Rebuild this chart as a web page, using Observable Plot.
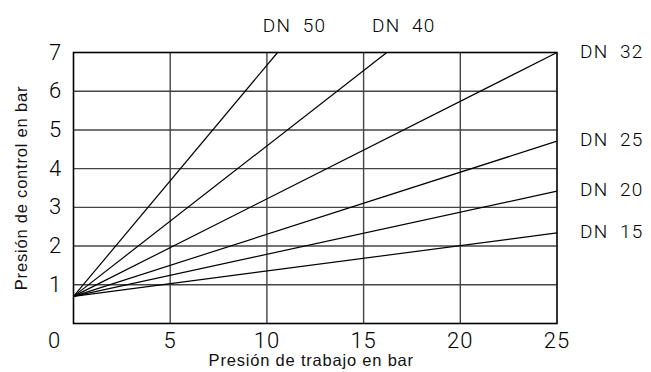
<!DOCTYPE html>
<html><head><meta charset="utf-8">
<script src="https://cdn.jsdelivr.net/npm/d3@7"></script>
<script src="https://cdn.jsdelivr.net/npm/@observablehq/plot@0.6"></script>
<style>
body{margin:0;background:#fff;}
</style></head>
<body><div id="chart"></div>
<script>
const series = ["DN  50","DN  40","DN  32","DN  25","DN  20","DN  15"];
const startY = [0.7,0.7,0.7,0.7,0.7,0.7];
const endX = [10.55,16.2,25,25,25,25];
const endY = [7,7,7,4.71,3.42,2.34];
const xTicks = [5,10,15,20,25];
const yTicks = [1,2,3,4,5,6,7];
const xTitle = "Presión de trabajo en bar";
const yTitle = "Presión de control en bar";

const segs = series.map((s,i)=>({name:s,x1:0,y1:startY[i],x2:endX[i],y2:endY[i]}));
const topLabels = segs.filter(d=>d.x2<25);
const rightLabels = segs.filter(d=>d.x2>=25);
const numFont = "Roboto";
const labFont = "Liberation Sans";

const chart = Plot.plot({
  width:651, height:372,
  marginLeft:73, marginRight:94.5, marginTop:52, marginBottom:49,
  x:{domain:[0,25], axis:null},
  y:{domain:[0,7], axis:null},
  marks:[
    Plot.ruleX(xTicks.slice(0,-1),{stroke:"#444",strokeWidth:1.4}),
    Plot.ruleY(yTicks.slice(0,-1),{stroke:"#444",strokeWidth:1.4}),
    Plot.frame({stroke:"#000",strokeWidth:1.6}),
    Plot.link(segs,{x1:"x1",y1:"y1",x2:"x2",y2:"y2",stroke:"#000",strokeWidth:1.2}),
    Plot.text(xTicks,{x:d=>d,y:0,dy:17,text:d=>String(d),fontSize:22,fontFamily:numFont,fontWeight:300,fill:"#000"}),
    Plot.text(yTicks,{x:0,y:d=>d,dx:-18,text:d=>String(d),fontSize:22,fontFamily:numFont,fontWeight:300,fill:"#000"}),
    Plot.text([0],{x:0,y:0,dx:-19,dy:17,text:d=>String(d),fontSize:22,fontFamily:numFont,fontWeight:300,fill:"#000"}),
    Plot.text(topLabels,{x:"x2",y:"y2",dx:17,dy:-27,text:"name",fontSize:19,fontFamily:numFont,fontWeight:300,fill:"#000"}),
    Plot.text(rightLabels,{x:"x2",y:"y2",dx:23,dy:-1,text:"name",textAnchor:"start",fontSize:19,fontFamily:numFont,fontWeight:300,fill:"#000"}),
    Plot.text([xTitle],{frameAnchor:"bottom",dy:42,dx:-4,text:d=>d,textAnchor:"middle",fontSize:16.5,fontFamily:labFont,fill:"#111"}),
    Plot.text([yTitle],{frameAnchor:"left",dx:-52,rotate:-90,text:d=>d,textAnchor:"middle",fontSize:16.5,fontFamily:labFont,fill:"#111"})
  ]
});
chart.querySelectorAll("text").forEach(t=>{
  t.setAttribute("xml:space","preserve");
  const s = t.textContent;
  if (s===xTitle || s===yTitle) t.setAttribute("letter-spacing","0.8");
  else if (s.startsWith("DN")) t.setAttribute("letter-spacing","1.2");
  else t.setAttribute("letter-spacing","1");
});
document.getElementById("chart").append(chart);
</script></body></html>
